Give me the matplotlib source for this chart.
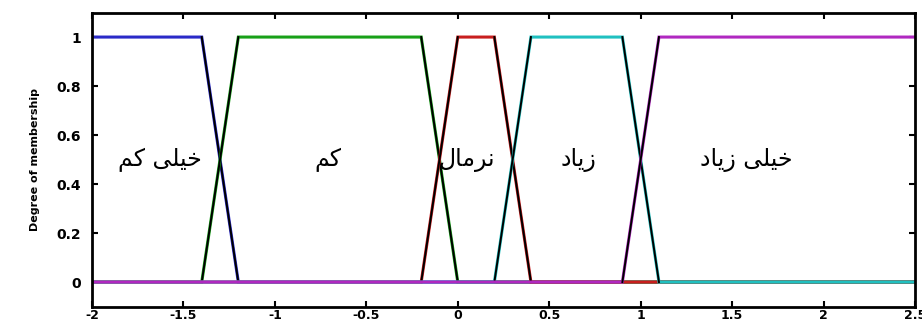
import matplotlib
matplotlib.use('Agg')
import matplotlib.pyplot as plt

# membership function corner points (x, degree)
very_low_x = [-2, -1.4, -1.2, 2.5]
very_low_y = [1, 1, 0, 0]
low_x = [-2, -1.4, -1.2, -0.2, 0, 2.5]
low_y = [0, 0, 1, 1, 0, 0]
normal_x = [-2, -0.2, 0, 0.2, 0.4, 2.5]
normal_y = [0, 0, 1, 1, 0, 0]
high_x = [-2, 0.2, 0.4, 0.9, 1.1, 2.5]
high_y = [0, 0, 1, 1, 0, 0]
very_high_x = [-2, 0.9, 1.1, 2.5]
very_high_y = [0, 0, 1, 1]

mf_names = ['خیلی کم', 'کم', 'نرمال', 'زیاد', 'خیلی زیاد']
label_x = [-1.63, -0.71, 0.05, 0.66, 1.58]
label_y = [0.5, 0.5, 0.5, 0.5, 0.5]
colors = ['#2a2ac8', '#18a018', '#c81e1e', '#20c0c0', '#b028c0']

xticks = [-2, -1.5, -1, -0.5, 0, 0.5, 1, 1.5, 2, 2.5]
xticklabels = ['-2', '-1.5', '-1', '-0.5', '0', '0.5', '1', '1.5', '2', '2.5']
yticks = [0, 0.2, 0.4, 0.6, 0.8, 1]
yticklabels = ['0', '0.2', '0.4', '0.6', '0.8', '1']

# presentation forms (isolated, final, initial, medial) for the letters used,
# matplotlib has no arabic shaping so do it by hand
FORMS = {
    'خ': '\uFEA5\uFEA6\uFEA7\uFEA8',
    'ی': '\uFBFC\uFBFD\uFBFE\uFBFF',
    'ل': '\uFEDD\uFEDE\uFEDF\uFEE0',
    'ک': '\uFB8E\uFB8F\uFB90\uFB91',
    'م': '\uFEE1\uFEE2\uFEE3\uFEE4',
    'ن': '\uFEE5\uFEE6\uFEE7\uFEE8',
    'ر': '\uFEAD\uFEAE',
    'ا': '\uFE8D\uFE8E',
    'ز': '\uFEAF\uFEB0',
    'د': '\uFEA9\uFEAA',
}


def joins_next(ch):
    return ch in FORMS and len(FORMS[ch]) == 4


def shape(text):
    out = []
    for i, ch in enumerate(text):
        if ch not in FORMS:
            out.append(ch)
            continue
        prev = text[i - 1] if i > 0 else ' '
        nxt = text[i + 1] if i + 1 < len(text) else ' '
        p = joins_next(prev)
        n = joins_next(ch) and nxt in FORMS
        idx = 3 if (p and n) else 1 if p else 2 if n else 0
        out.append(FORMS[ch][idx])
    return ''.join(reversed(out))


fig = plt.figure(figsize=(9.22, 3.22), dpi=100)
ax = fig.add_axes([0.0998, 0.048, 0.8926, 0.913])

series = [(very_low_x, very_low_y), (low_x, low_y), (normal_x, normal_y),
          (high_x, high_y), (very_high_x, very_high_y)]
for (xs, ys), c in zip(series, colors):
    ax.plot(xs, ys, color=c, lw=2.2, solid_joinstyle='miter')
    # slopes show up dark in the original
    for i in range(len(xs) - 1):
        if ys[i] != ys[i + 1]:
            ax.plot(xs[i:i + 2], ys[i:i + 2], color='black', lw=1.4)

for name, lx, ly in zip(mf_names, label_x, label_y):
    ax.text(lx, ly, shape(name), fontsize=17, ha='center', va='center',
            family='DejaVu Sans')

ax.set_xlim(-2, 2.5)
ax.set_ylim(-0.1, 1.1)
ax.set_xticks(xticks)
ax.set_xticklabels(xticklabels, fontsize=9, fontweight='bold')
ax.set_yticks(yticks)
ax.set_yticklabels(yticklabels, fontsize=10, fontweight='bold')
ax.tick_params(direction='in', length=4, width=1.5, top=True, right=True)
ax.tick_params(axis='x', pad=1.5)
ax.tick_params(axis='y', pad=8)
for s in ax.spines.values():
    s.set_linewidth(2)
ax.set_ylabel('Degree of membership', fontsize=8, fontweight='bold',
              family='Liberation Sans Narrow', labelpad=12)

fig.savefig('out.png', dpi=100)
